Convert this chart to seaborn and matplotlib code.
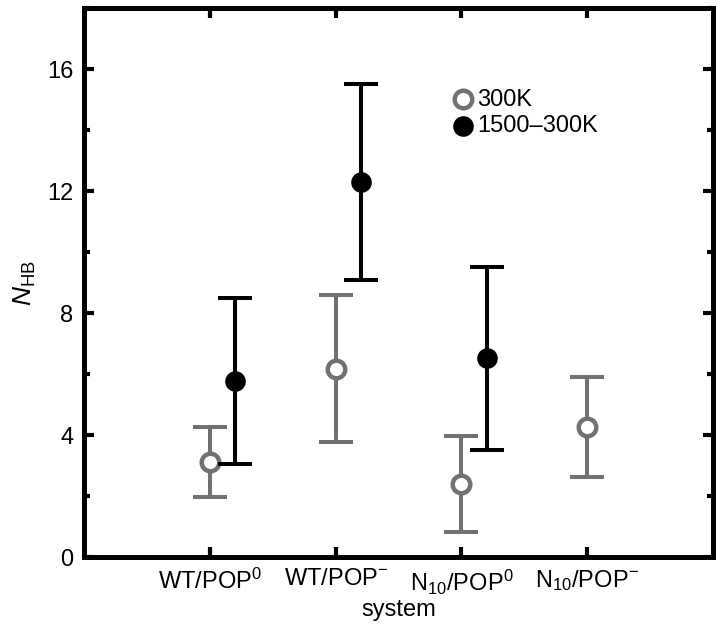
import matplotlib
matplotlib.use("Agg")
import matplotlib.pyplot as plt
import seaborn as sns
import numpy as np
import pandas as pd
from matplotlib.ticker import MultipleLocator

systems = [r"$\mathregular{WT/POP^{0}}$", r"$\mathregular{WT/POP^{-}}$",
           r"$\mathregular{N_{10}/POP^{0}}$", r"$\mathregular{N_{10}/POP^{-}}$"]
nhb_300 = [3.12, 6.18, 2.40, 4.28]
err_300 = [1.15, 2.40, 1.58, 1.64]
nhb_1500 = [5.78, 12.30, 6.52]
err_1500 = [2.72, 3.20, 3.00]

gray = "#717171"


def build_frame():
    pos = np.arange(1, len(systems) + 1)
    a = pd.DataFrame({"x": pos, "y": nhb_300, "err": err_300, "run": "300K"})
    b = pd.DataFrame({"x": pos[:len(nhb_1500)] + 0.2, "y": nhb_1500,
                      "err": err_1500, "run": "1500\u2013300K"})
    return pd.concat([a, b], ignore_index=True)


def plot_nhb(df, save_path="out.png"):
    sns.set_style("ticks", {"axes.edgecolor": "black", "text.color": "black",
                            "xtick.color": "black", "ytick.color": "black",
                            "axes.labelcolor": "black"})
    plt.rcParams["font.family"] = ["Liberation Sans", "DejaVu Sans"]
    plt.rcParams["mathtext.fontset"] = "custom"
    plt.rcParams["mathtext.rm"] = "Liberation Sans"
    plt.rcParams["mathtext.it"] = "Liberation Sans:italic"

    fig = plt.figure(figsize=(7.2, 6.24), dpi=100)
    ax = fig.add_axes([0.117, 0.107, 0.873, 0.880])

    styles = {"300K": dict(color=gray, face="white", s=160, lw=3.2, z=3),
              "1500\u2013300K": dict(color="black", face="black", s=220, lw=0, z=5)}
    for run, sub in df.groupby("run", sort=False):
        st = styles[run]
        ax.errorbar(sub["x"], sub["y"], yerr=sub["err"], fmt="none", ecolor=st["color"],
                    elinewidth=2.9, capsize=12, capthick=2.9, zorder=st["z"] - 1)
        sns.scatterplot(x=sub["x"], y=sub["y"], ax=ax, marker="o", s=st["s"],
                        color=st["face"], edgecolor=st["color"], linewidth=st["lw"],
                        zorder=st["z"], label=run)

    ax.set_xlim(0, 5)
    ax.set_ylim(0, 18)
    ax.set_xticks(np.arange(1, len(systems) + 1))
    ax.set_xticklabels(systems)
    ax.yaxis.set_major_locator(MultipleLocator(4))
    ax.yaxis.set_minor_locator(MultipleLocator(2))
    ax.tick_params(axis="both", which="major", direction="in", length=7, width=3,
                   labelsize=17, top=True, right=True, pad=8)
    ax.tick_params(axis="y", which="minor", direction="in", length=4, width=3, right=True)
    for s in ax.spines.values():
        s.set_linewidth(3.6)
        s.set_visible(True)
    ax.set_xlabel("system", fontsize=17, labelpad=1)
    ax.set_ylabel(r"$N_{\mathrm{HB}}$", fontsize=19, labelpad=6)

    ax.legend(loc="upper left", bbox_to_anchor=(0.565, 0.875), frameon=False,
              fontsize=17, handletextpad=0.1, labelspacing=0.2,
              handlelength=1.0, borderpad=0)

    fig.savefig(save_path, dpi=100)


if __name__ == "__main__":
    df = build_frame()
    plot_nhb(df)
